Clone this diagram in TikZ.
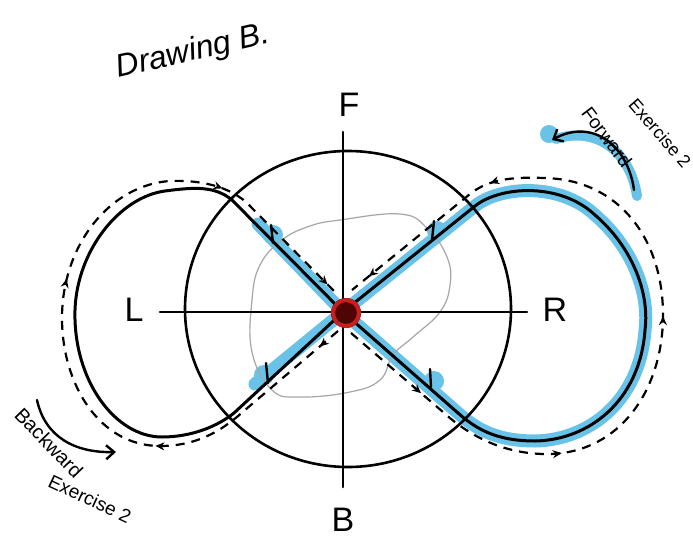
\documentclass[tikz,border=0pt]{standalone}
\usepackage{fontspec}
\setmainfont{Liberation Sans}
\usetikzlibrary{arrows.meta,decorations.markings}
\definecolor{hl}{RGB}{105,195,232}
\definecolor{dotred}{RGB}{200,30,30}
\definecolor{dotdark}{RGB}{80,5,5}
\begin{document}
\begin{tikzpicture}[x=1pt,y=-1pt,
  ink/.style={line width=2.6pt, line cap=round, line join=round},
  hlstroke/.style={hl, line width=13pt, line cap=round, line join=round},
  dashline/.style={line width=2.2pt, dash pattern=on 9pt off 7pt},
  lab/.style={font=\fontsize{34}{36}\selectfont, inner sep=0pt},
  hand/.style={inner sep=0pt},
  tk/.style={line width=2.4pt, line cap=round},
  leftarrows/.style={postaction={solid, decorate}, decoration={markings,
     mark=at position 0.03 with {\arrow{Stealth[length=9pt,width=8pt]}},
     mark=at position 0.278 with {\arrow{Stealth[length=9pt,width=8pt]}},
     mark=at position 0.547 with {\arrow{Stealth[length=9pt,width=8pt]}},
     mark=at position 0.805 with {\arrow{Stealth[length=9pt,width=8pt]}},
     mark=at position 0.985 with {\arrow{Stealth[length=9pt,width=8pt]}}}},
  rightarrows/.style={postaction={solid, decorate}, decoration={markings,
     mark=at position 0.106 with {\arrow{Stealth[length=9pt,width=8pt]}},
     mark=at position 0.288 with {\arrow{Stealth[length=9pt,width=8pt]}},
     mark=at position 0.502 with {\arrow{Stealth[length=9pt,width=8pt]}},
     mark=at position 0.799 with {\arrow{Stealth[length=9pt,width=8pt]}},
     mark=at position 0.975 with {\arrow{Stealth[length=9pt,width=8pt]}}}}
]
\useasboundingbox (0,0) rectangle (693,538);
\fill[white] (0,0) rectangle (693,538);

% named points
\coordinate (C) at (343,312);
\coordinate (Vt) at (343,132);
\coordinate (Vb) at (343,487);
\coordinate (Hl) at (160,312);
\coordinate (Hr) at (527,312);

% ---- blue highlights ----
\draw[hlstroke] (258,224) -- (C) -- (255,384);
\draw[hlstroke] (C) -- (475,206) .. controls (500,186) and (560,182) .. (595,215)
  .. controls (630,245) and (650,290) .. (645,330)
  .. controls (640,400) and (590,440) .. (535,441)
  .. controls (495,441) and (475,428) .. (458,413) -- cycle;
\fill[hl] (273,235) circle (10);
\fill[hl] (437,231) circle (10);
\fill[hl] (264,375) circle (10);
\fill[hl] (434,381) circle (10);

% ---- gray inner shape ----
\draw[gray!70, line width=1.2pt] plot[smooth cycle, tension=0.7] coordinates {
  (340,220) (400,214) (427,228) (447,257) (450,285) (440,312) (413,337)
  (393,355) (380,380) (350,392) (300,397) (272,390) (252,352) (252,300)
  (260,265) (282,240) (310,226)};

% ---- circle and axes ----
\draw[ink] (348,309) ellipse [x radius=163, y radius=158];
\draw[ink] (Vt) -- (Vb);
\draw[ink] (Hl) -- (Hr);

% ---- figure-eight loops ----
\draw[ink, line width=3pt] (C) -- (232,200) .. controls (215,186) and (195,187) .. (165,191)
  .. controls (120,197) and (77,250) .. (75,310)
  .. controls (73,380) and (115,437) .. (162,437)
  .. controls (192,437) and (218,426) .. (234,413) -- cycle;
\draw[ink, line width=3pt] (C) -- (475,206) .. controls (500,186) and (560,182) .. (595,215)
  .. controls (630,245) and (650,290) .. (645,330)
  .. controls (640,400) and (590,440) .. (535,441)
  .. controls (495,441) and (475,428) .. (458,413) -- cycle;

% ---- dashed paths with arrows ----
\draw[dashline, leftarrows] (338,331) -- (245,410)
  .. controls (225,428) and (200,446) .. (160,446)
  .. controls (100,446) and (62,385) .. (62,318)
  .. controls (62,245) and (110,185) .. (170,181)
  .. controls (195,180) and (225,184) .. (246,202) -- (336,293);
\draw[dashline, rightarrows] (351,333) -- (443,412)
  .. controls (465,432) and (500,455) .. (550,454)
  .. controls (620,452) and (663,390) .. (663,315)
  .. controls (663,240) and (620,180) .. (545,178)
  .. controls (515,177) and (490,178) .. (470,194) -- (352,290);

% ---- tick marks ----
\draw[tk] (271,225) -- (273,243);
\draw[tk] (434,221) -- (432,240);
\draw[tk] (266,363) -- (268,383);
\draw[tk] (430,369) -- (431,387);

% ---- centre dot ----
\fill[dotdark] (346,313) circle (15);
\draw[dotred, line width=4pt] (346,313) circle (13);

% ---- labels ----
\node[lab] (F) at (349,105) {F};
\node[lab] (L) at (134,310) {L};
\node[lab] (R) at (555,310) {R};
\node[lab] (B) at (343,520) {B};

\node[hand, rotate=13, font=\fontsize{32}{34}\selectfont\itshape] (title) at (193,52) {Drawing B.};

% forward arrow
\draw[hl, line width=10pt, line cap=round] (637,196) .. controls (630,150) and (595,126) .. (556,139);
\fill[hl] (549,134) circle (9);
\coordinate (fa) at (634,190);
\coordinate (fb) at (552,140);
\draw[ink, line width=2.4pt, -{Straight Barb[length=8pt,width=14pt]}] (fa) .. controls (628,145) and (592,118) .. (fb);
\node[hand, rotate=-53, font=\fontsize{19}{20}\selectfont] (fwd) at (607,137) {Forward};
\node[hand, rotate=-49, font=\fontsize{18}{20}\selectfont] (ex1) at (660,133) {Exercise 2};

% backward arrow
\coordinate (ba) at (37,400);
\coordinate (bb) at (116,452);
\draw[ink, line width=2.4pt, -{Straight Barb[length=8pt,width=14pt]}] (ba) .. controls (45,437) and (75,453) .. (bb);
\node[hand, rotate=-46, font=\fontsize{20}{22}\selectfont] (bwd) at (49,443) {Backward};
\node[hand, rotate=-25, font=\fontsize{19}{22}\selectfont] (ex2) at (90,499) {Exercise 2};
\end{tikzpicture}
\end{document}
